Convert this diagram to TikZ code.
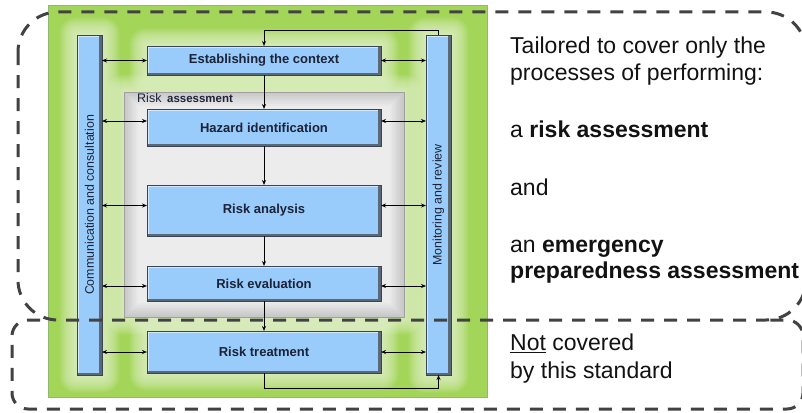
\documentclass[tikz,border=0pt]{standalone}
\usepackage{fontspec}
\setmainfont{Liberation Sans}
\usetikzlibrary{arrows.meta,calc}

\definecolor{leaf}{HTML}{A3D559}
\definecolor{leaflight}{HTML}{E8F6D2}
\definecolor{leafedge}{HTML}{8FB870}
\definecolor{greyedge}{HTML}{C8C8C8}
\definecolor{greylight}{HTML}{EDEDED}
\definecolor{greyline}{HTML}{A0A0A0}
\definecolor{boxblue}{HTML}{99CCFA}
\definecolor{boxedge}{HTML}{3A4452}
\definecolor{bevel}{HTML}{5A6878}
\definecolor{dashgrey}{HTML}{424242}
\definecolor{labelink}{HTML}{1C2238}

\tikzset{
  bevelled/.style={draw=boxedge, line width=0.8pt, fill=boxblue,
    inner sep=0pt, outer sep=0pt,
    path picture={
      \fill[white,opacity=0.55] (path picture bounding box.north west)
        rectangle ([yshift=-2pt]path picture bounding box.north east);
      \fill[white,opacity=0.55] (path picture bounding box.north west)
        rectangle ([xshift=2pt]path picture bounding box.south west);
      \fill[bevel] ([xshift=-3.5pt]path picture bounding box.north east)
        rectangle (path picture bounding box.south east);
      \fill[bevel] ([yshift=2.5pt]path picture bounding box.south west)
        rectangle (path picture bounding box.south east);
    }},
  stage/.style={bevelled, minimum width=234pt,
    font=\fontsize{13}{15}\selectfont\bfseries, text=labelink},
  sidebar/.style={bevelled, minimum width=25pt, minimum height=340pt},
  barlabel/.style={rotate=90, font=\fontsize{12.4}{14}\selectfont, text=labelink},
  flow/.style={line width=0.9pt, -{Stealth[length=5pt,width=4pt]}},
  twoway/.style={line width=0.9pt, {Stealth[length=5pt,width=4pt]}-{Stealth[length=5pt,width=4pt]}},
  dashline/.style={draw=dashgrey, line width=3pt, dash pattern=on 13pt off 10pt},
  note/.style={anchor=base west, align=left, inner sep=0pt,
    font=\fontsize{23}{27.5}\selectfont, text=black!93},
}

% soft light halo around a rectangle (corners in picture units)
\newcommand\halo[4]{%
  \foreach \k in {1,...,16}{
    \fill[leaflight, opacity=0.085, rounded corners=\k pt]
      (#1-\k*1.1,#2-\k*1.1) rectangle (#3+\k*1.1,#4+\k*1.1);
  }%
}

\begin{document}
\begin{tikzpicture}[x=1pt,y=-1pt]
\useasboundingbox (0,0) rectangle (802,412);
\fill[white] (0,0) rectangle (802,412);

% green frame with light halos behind the process elements
\fill[leaf] (48,5) rectangle (487,397);
\halo{77}{35}{102}{375}
\halo{426}{35}{451}{375}
\halo{124}{92}{404}{317}
\halo{147}{46}{381}{75}
\halo{147}{331}{381}{373}
\draw[leafedge, line width=0.8pt] (48,5) rectangle (487,397);

% grey risk assessment panel
\foreach \k in {0,...,7}{
  \pgfmathtruncatemacro\p{100-\k*14}
  \fill[greyedge!\p!greylight] (124+\k*2,92+\k*2) rectangle (404-\k*2,317-\k*2);
}
\draw[greyline, line width=0.8pt] (124,92) rectangle (404,317);
\node[anchor=base west, inner sep=0pt, text=labelink] (ralabel) at (137,102)
  {\fontsize{12.5}{14}\selectfont Risk\hspace{0.45em}\fontsize{11.5}{14}\selectfont\bfseries assessment};

% side bars
\node[sidebar, label={[barlabel]center:Communication and consultation}] (cc) at (89.5,205) {};
\node[sidebar, label={[barlabel]center:Monitoring and review}] (mr) at (438.5,205) {};

% process stages
\node[stage, minimum height=29pt] (est) at (264,60.5) {Establishing the context};
\node[stage, minimum height=37pt] (hz)  at (264,127.5) {Hazard identification};
\node[stage, minimum height=51pt] (ra)  at (264,210.5) {Risk analysis};
\node[stage, minimum height=35pt] (ev)  at (264,283.5) {Risk evaluation};
\node[stage, minimum height=42pt] (tr)  at (264,352) {Risk treatment};

% main flow
\draw[flow] (est.south) -- (hz.north);
\draw[flow] (hz.south) -- (ra.north);
\draw[flow] (ra.south) -- (ev.north);
\draw[flow] (ev.south) -- (tr.north);
\draw[flow] (mr.north) -- ++(0,-5) -| (est.north);
\draw[flow] (tr.south) -- ++(0,15) -| (mr.south);

% two-way links to the side bars
\foreach \n/\s in {est/0pt, hz/6.5pt, ra/5pt, ev/-2.5pt, tr/0pt}{
  \draw[twoway] ([yshift=\s]\n.west -| cc.east) -- ([yshift=\s]\n.west);
  \draw[twoway] ([yshift=\s]\n.east) -- ([yshift=\s]\n.east -| mr.west);
}

% scope outlines
\draw[dashline, rounded corners=40pt] (18,12) rectangle (806,320);
\draw[dashline, rounded corners=16pt]
  (40,320) -- (12,320) -- (12,409) -- (803,409) -- (803,320) -- (770,320);

% explanatory text (two-line notes are anchored on their last line)
\node[note] (t1) at (510,81) {Tailored to cover only the\\processes of performing:};
\node[note] (t2) at (510,137) {a \textbf{risk assessment}};
\node[note] (t3) at (510,195) {and};
\node[note] (t4) at (510,278) {an \textbf{emergency}\\[-1.5pt]\textbf{preparedness assessment}};
\node[note] (t5) at (510,378) {\underline{Not} covered\\by this standard};
\end{tikzpicture}
\end{document}
